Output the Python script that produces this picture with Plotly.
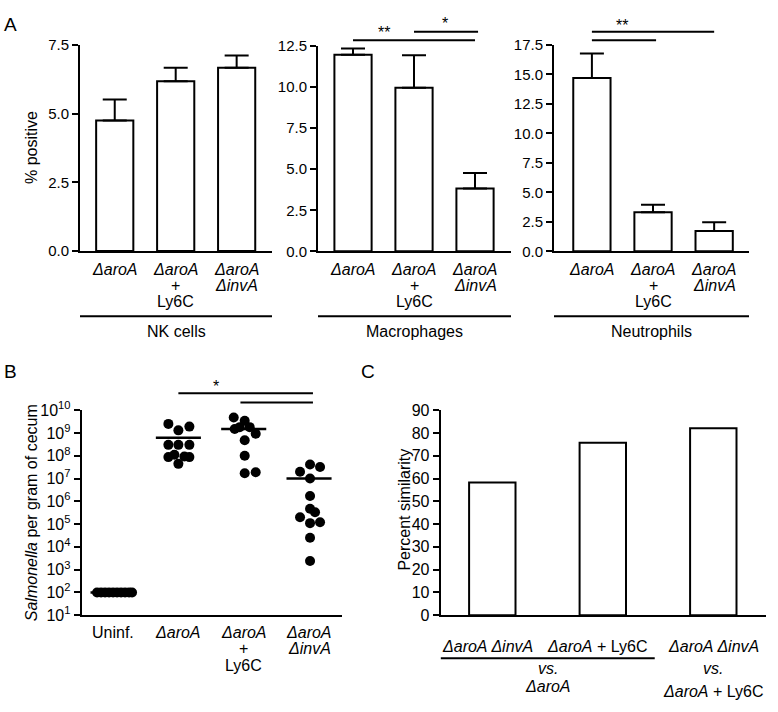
import plotly.graph_objects as go

W, H = 778, 712
FONT = "Liberation Sans, Arial, Helvetica, sans-serif"

# ---------------- Panel A data ----------------
a_cat_lines = [["<i>ΔaroA</i>"],
               ["<i>ΔaroA</i>", "+", "Ly6C"],
               ["<i>ΔaroA</i>", "<i>ΔinvA</i>"]]
nk_mean = [4.75, 6.18, 6.67]
nk_err = [0.77, 0.49, 0.45]
mac_mean = [11.97, 9.96, 3.82]
mac_err = [0.37, 1.97, 0.95]
neu_mean = [14.7, 3.32, 1.73]
neu_err = [2.08, 0.64, 0.74]
group_names = ["NK cells", "Macrophages", "Neutrophils"]
a_ymax = [7.5, 12.5, 17.5]

# ---------------- Panel B data ----------------
b_cat_lines = [["Uninf."],
               ["<i>ΔaroA</i>"],
               ["<i>ΔaroA</i>", "+", "Ly6C"],
               ["<i>ΔaroA</i>", "<i>ΔinvA</i>"]]
uninf_cfu = [100, 100, 100, 100, 100, 100, 100, 100, 100, 100]
aroA_cfu = [2.5e9, 1.3e9, 1.9e9, 3.0e8, 3.0e8, 3.0e8, 8.7e7, 1.1e8, 9.3e7, 8.7e7, 4.4e7]
ly6c_cfu = [4.8e9, 3.4e9, 1.5e9, 1.8e9, 1.8e9, 9.3e8, 4.8e8, 1.0e8, 1.7e7, 1.9e7]
invA_cfu = [2.0e7, 4.1e7, 3.2e7, 1.0e7, 1.7e6, 4.7e5, 3.3e5, 2.0e5, 1.1e5, 1.2e5, 2.5e4, 2.4e3]
b_means = [100, 6.2e8, 1.5e9, 1.0e7]
b_exponents = [1, 2, 3, 4, 5, 6, 7, 8, 9, 10]
# beeswarm offsets (pixels) so overlapping dots stay visible
uninf_dx = [-16, -12, -8, -4, 0, 4, 8, 12, 16, 19]
aroA_dx = [-10, 0, 11, -10, 0, 11, -10, -4, 6, 11, 0]
ly6c_dx = [-10, 1, -9, -4, 6, 12, 1, 1, 1, 12]
invA_dx = [-9, 1, 11, 1, 1, 1, 6, -9, 1, 11, 1, 1]

# ---------------- Panel C data ----------------
c_values = [58.3, 75.7, 82.1]


def fx(px):
    return px / W


def fy(py):
    return 1 - py / H


fig = go.Figure()

# Panel A geometry (pixels)
a_xdom = [(80, 272), (318, 511), (554, 749)]
a_ydom = [(247, 35), (247.3, 36), (247.3, 35)]
a_xrange = [(-0.57, 2.58), (-0.574, 2.59), (-0.62, 2.57)]
a_means = [nk_mean, mac_mean, neu_mean]
a_errs = [nk_err, mac_err, neu_err]

axis_common = dict(showgrid=False, zeroline=False, showline=True, linewidth=2,
                   linecolor="black", color="black")
layout_axes = {}
for i in range(3):
    n = "" if i == 0 else str(i + 1)
    xa = "x" + n
    ya = "y" + n
    fig.add_trace(go.Bar(
        x=[0, 1, 2], y=a_means[i], width=0.61,
        marker=dict(color="white", line=dict(color="black", width=2)),
        error_y=dict(type="data", array=a_errs[i], arrayminus=[0, 0, 0], symmetric=False,
                     thickness=2, width=12, color="black"),
        xaxis=xa, yaxis=ya, showlegend=False))
    layout_axes["xaxis" + n] = dict(axis_common, domain=[fx(a_xdom[i][0]), fx(a_xdom[i][1])],
                                    range=list(a_xrange[i]), showticklabels=False, ticks="",
                                    anchor=ya)
    layout_axes["yaxis" + n] = dict(axis_common, domain=[fy(a_ydom[i][0]), fy(a_ydom[i][1])],
                                    range=[0, a_ymax[i]], dtick=2.5, tick0=0, tickformat=".1f",
                                    ticks="outside", ticklen=6, tickwidth=2, tickcolor="black",
                                    tickfont=dict(size=15, color="black", family=FONT),
                                    anchor=xa)

# Panel B geometry
b_xrange = (-0.48, 3.5)
b_xdom = (81.7, 341.7)
px_per_unit_b = (b_xdom[1] - b_xdom[0]) / (b_xrange[1] - b_xrange[0])
b_groups = [(uninf_cfu, uninf_dx), (aroA_cfu, aroA_dx), (ly6c_cfu, ly6c_dx), (invA_cfu, invA_dx)]
for gi, (vals, dx) in enumerate(b_groups):
    fig.add_trace(go.Scatter(
        x=[gi + d / px_per_unit_b for d in dx], y=vals, mode="markers",
        marker=dict(color="black", size=10, line=dict(width=0)),
        xaxis="x4", yaxis="y4", showlegend=False, cliponaxis=False))
mx, my = [], []
for gi, m in enumerate(b_means):
    mx += [gi - 0.345, gi + 0.345, None]
    my += [m, m, None]
fig.add_trace(go.Scatter(x=mx, y=my, mode="lines", line=dict(color="black", width=2.5),
                         xaxis="x4", yaxis="y4", showlegend=False))
layout_axes["xaxis4"] = dict(axis_common, domain=[fx(b_xdom[0]), fx(b_xdom[1])],
                             range=list(b_xrange), showticklabels=False, ticks="", anchor="y4")
layout_axes["yaxis4"] = dict(axis_common, domain=[fy(621.7), fy(410.7)], type="log",
                             range=[1, 10], tickvals=[10 ** e for e in b_exponents],
                             ticktext=["10<sup>%d</sup>" % e for e in b_exponents],
                             ticks="outside", ticklen=6, tickwidth=2, tickcolor="black",
                             tickfont=dict(size=16, color="black", family=FONT), anchor="x4")

# Panel C
fig.add_trace(go.Bar(x=[0, 1, 2], y=c_values, width=0.42,
                     marker=dict(color="white", line=dict(color="black", width=2)),
                     xaxis="x5", yaxis="y5", showlegend=False))
layout_axes["xaxis5"] = dict(axis_common, domain=[fx(440.7), fx(766)], range=[-0.467, 2.477],
                             showticklabels=False, ticks="", anchor="y5")
layout_axes["yaxis5"] = dict(axis_common, domain=[fy(621.7), fy(410.7)], range=[0, 90], dtick=10,
                             ticks="outside", ticklen=6, tickwidth=2, tickcolor="black",
                             tickfont=dict(size=16, color="black", family=FONT), anchor="x5")

annotations = []
shapes = []


def ann(text, x, y, xref="paper", size=16, angle=0, xanchor="center", xshift=0):
    annotations.append(dict(text=text, x=x, y=fy(y), xref=xref, yref="paper", showarrow=False,
                            xanchor=xanchor, yanchor="middle", textangle=angle, xshift=xshift,
                            font=dict(size=size, color="black", family=FONT)))


def hline(x0, x1, y, xref, width=2):
    shapes.append(dict(type="line", x0=x0, x1=x1, y0=fy(y), y1=fy(y), xref=xref, yref="paper",
                       line=dict(color="black", width=width)))


# Panel A labels
line_y_a = [266, 282, 299]
for i in range(3):
    xa = "x" if i == 0 else "x" + str(i + 1)
    for ci, lines in enumerate(a_cat_lines):
        for li, t in enumerate(lines):
            ann(t, ci, line_y_a[li], xref=xa)
    hline(0, 1, 314, xa + " domain")
    ann(group_names[i], 0.5, 330, xref=xa + " domain")

# significance A
hline(0, 2, 30, "x2")
hline(1, 2.05, 21.3, "x2")
ann("**", 0.5, 22, xref="x2")
ann("*", 1.5, 12.5, xref="x2")
hline(0, 2, 21.3, "x3")
hline(0, 1.05, 30, "x3")
ann("**", 0.5, 15, xref="x3")

# Panel B labels
line_y_b = [639, 656, 673]
for ci, lines in enumerate(b_cat_lines):
    for li, t in enumerate(lines):
        ann(t, ci, line_y_b[li], xref="x4")
hline(1, 3.06, 393.3, "x4")
hline(1.95, 3.06, 402.7, "x4")
ann("*", 1.58, 386.5, xref="x4")

# Panel C labels
ann("<i>ΔaroA ΔinvA</i>", 0, 654, xref="x5", xshift=-5)
ann("<i>ΔaroA</i> + Ly6C", 1, 654, xref="x5", xshift=-5)
ann("<i>ΔaroA ΔinvA</i>", 2, 654, xref="x5")
hline(-0.47, 1.47, 666, "x5")
ann("<i>vs.</i>", 0.5, 677, xref="x5")
ann("<i>ΔaroA</i>", 0.5, 695, xref="x5")
ann("<i>vs.</i>", 2, 677, xref="x5")
ann("<i>ΔaroA</i> + Ly6C", 2, 700, xref="x5")

# axis titles
ann("% positive", fx(31), 141, angle=-90)
ann("<i>Salmonella</i> per gram of cecum", fx(31.7), 516, angle=-90)
ann("Percent similarity", fx(405), 513, angle=-90)

# panel letters
ann("A", fx(10), 14, size=19)
ann("B", fx(10), 371, size=19)
ann("C", fx(368), 371, size=19)

fig.update_layout(
    width=W, height=H, margin=dict(l=0, r=0, t=0, b=0),
    paper_bgcolor="white", plot_bgcolor="white",
    font=dict(family=FONT, color="black", size=16),
    showlegend=False, annotations=annotations, shapes=shapes,
    **layout_axes)

fig.write_html("out.html", config={"displayModeBar": False},
               post_script="document.body.style.margin='0';document.body.style.overflow='hidden';")
